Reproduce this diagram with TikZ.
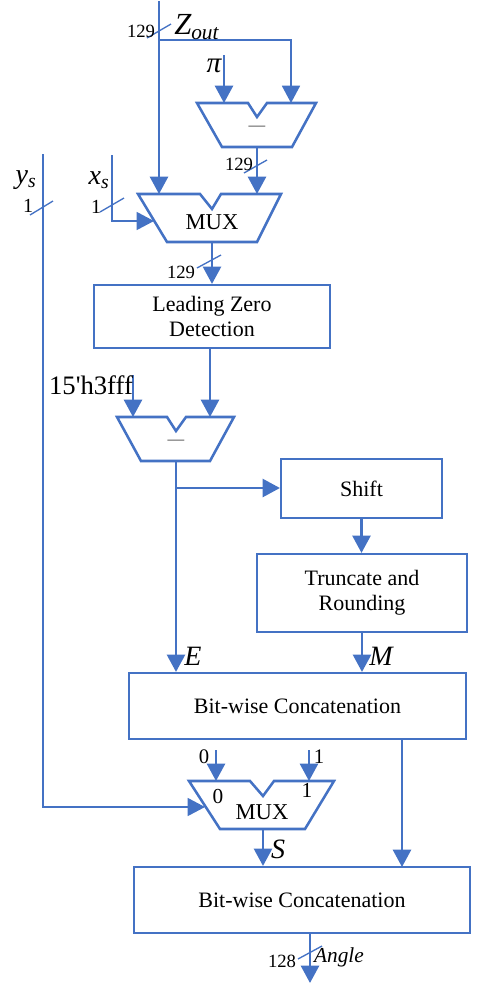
\documentclass[tikz,border=0pt]{standalone}
\usepackage{fontspec}
\setmainfont{Liberation Serif}
\newfontfamily\plainserif{Liberation Serif}
\usetikzlibrary{arrows.meta}
\definecolor{wblue}{HTML}{4472C4}
\begin{document}
\begin{tikzpicture}[x=0.75pt,y=-0.75pt,
 main/.style={draw=wblue,line width=2pt},
 midl/.style={draw=wblue,line width=1.4pt},
 thinl/.style={draw=wblue,line width=1pt},
 arr/.style={-{Triangle[width=13.5pt,length=13pt]}},
 blk/.style={draw=wblue,line width=1.6pt,fill=white,inner sep=0pt,align=center,font=\fontsize{16.5}{19}\selectfont},
 num/.style={inner sep=0pt,font=\fontsize{14}{14}\selectfont},
 ital/.style={inner sep=0pt,font=\fontsize{21}{21}\selectfont\itshape},
 muxshape/.style={draw=wblue,line width=1.9pt,line join=miter},
 minus/.style={inner sep=0pt,text=black!75,font=\fontsize{12.5}{12.5}\selectfont},
 muxtxt/.style={inner sep=0pt,font=\fontsize{17}{17}\selectfont}]
\useasboundingbox (0,0) rectangle (483,983);

% ---- arithmetic / mux shapes ----
\draw[muxshape] (197,103) -- (248,103) -- (257,117) -- (267,103) -- (316,103) -- (292,147) -- (222,147) -- cycle;
\node[minus] (sub1) at (257,128) {—};
\draw[muxshape] (138,194) -- (200,194) -- (212,209) -- (221,194) -- (281,194) -- (257,242) -- (167,242) -- cycle;
\node[muxtxt] (mux1) at (212,222) {MUX};
\draw[muxshape] (117,417) -- (167,417) -- (176,431) -- (186,417) -- (234,417) -- (210,461) -- (141,461) -- cycle;
\node[minus] (sub2) at (176,442) {—};
\draw[muxshape] (189,781) -- (250,781) -- (263,796) -- (274,781) -- (334,781) -- (305,829) -- (220,829) -- cycle;
\node[muxtxt] (mux2) at (262,812) {MUX};
\node[num,font=\fontsize{16}{16}\selectfont] (m2zero) at (218,796) {0};
\node[num,font=\fontsize{16}{16}\selectfont] (m2one) at (307,790) {1};

% ---- boxes ----
\node[blk,minimum width=177pt,minimum height=47.25pt] (lzd) at (212,316.5) {Leading Zero\\Detection};
\node[blk,minimum width=120.75pt,minimum height=44.25pt] (shift) at (361.5,488.5) {Shift};
\node[blk,minimum width=157.5pt,minimum height=58.5pt] (trunc) at (362,593) {Truncate and\\Rounding};
\node[blk,minimum width=252.75pt,minimum height=49.5pt] (c1) at (297.5,706) {Bit-wise Concatenation};
\node[blk,minimum width=252pt,minimum height=49.5pt] (c2) at (302,900) {Bit-wise Concatenation};

% ---- ports ----
\coordinate (ztop) at (159,1);
\coordinate (m1a) at (159,194);
\coordinate (zbr) at (159,40);
\coordinate (s1b) at (291,103);
\coordinate (pitop) at (224,55);
\coordinate (s1a) at (224,103);
\coordinate (s1o) at (257,147);
\coordinate (m1b) at (257,194);
\coordinate (xtop) at (112,155);
\coordinate (m1s) at (154,221);
\coordinate (m1o) at (212,242);
\coordinate (hex) at (133,375);
\coordinate (s2a) at (133,417);
\coordinate (s2b) at (210,417);
\coordinate (s2o) at (176,461);
\coordinate (ebr) at (176,488);
\coordinate (m2a0) at (216,750);
\coordinate (m2a) at (216,781);
\coordinate (m2b0) at (309,750);
\coordinate (m2b) at (309,781);
\coordinate (ytop) at (43,154);
\coordinate (m2s) at (205,807);
\coordinate (m2o) at (263,829);
\coordinate (c2b) at (402,867);
\coordinate (angle) at (310,983);

% ---- connectors ----
\draw[main,arr] (ztop) -- (m1a);
\draw[midl,arr] (zbr) -| (s1b);
\draw[main,arr] (pitop) -- (s1a);
\draw[main,arr] (s1o) -- (m1b);
\draw[thinl,arr] (xtop) |- (m1s);
\draw[main,arr] (m1o) -- (lzd.north);
\draw[main,arr] (lzd.south -| s2b) -- (s2b);
\draw[main,arr] (hex) -- (s2a);
\draw[main,arr] (s2o) -- (s2o |- c1.north);
\draw[main,arr] (ebr) -- (ebr -| shift.west);
\draw[main,arr] (shift.south) -- (shift.south |- trunc.north);
\draw[main,arr] (trunc.south) -- (trunc.south |- c1.north);
\draw[main,arr] (c2b |- c1.south) -- (c2b);
\draw[main,arr] (m2a0) -- (m2a);
\draw[main,arr] (m2b0) -- (m2b);
\draw[thinl,arr] (ytop) |- (m2s);
\draw[main,arr] (m2o) -- (m2o |- c2.north);
\draw[main,arr] (c2.south -| angle) -- (angle);

% ---- bus-width slashes ----
\draw[thinl] (147,38) -- (171,24);
\draw[thinl] (244,173) -- (267,160);
\draw[thinl] (100,212) -- (124,198);
\draw[thinl] (30,215) -- (53,201);
\draw[thinl] (197,268) -- (221,255);
\draw[thinl] (298,959) -- (322,946);

% ---- labels ----
\node[num] (w1) at (141,31) {129};
\node[ital,anchor=west,font=\fontsize{23}{23}\selectfont\itshape] (zout) at (174,27) {Z\raisebox{-0.35ex}{\fontsize{16}{16}\selectfont out}};
\node[ital,font=\fontsize{22}{22}\selectfont\itshape] (pi) at (214,66) {π};
\node[num] (w2) at (239,164) {129};
\node[ital] (xs) at (99,180) {x\textsubscript{s}};
\node[num,font=\fontsize{15}{15}\selectfont] (w3) at (96,207) {1};
\node[ital] (ys) at (26,180) {y\textsubscript{s}};
\node[num,font=\fontsize{15}{15}\selectfont] (w4) at (28,206) {1};
\node[num] (w5) at (181,272) {129};
\node[inner sep=0pt,font=\plainserif\fontsize{20}{20}\selectfont] (hexl) at (91,385) {15'h3fff};
\node[ital] (el) at (193,656) {E};
\node[ital] (ml) at (381,656) {M};
\node[ital] (sl) at (278,849) {S};
\node[num,font=\fontsize{15.5}{15.5}\selectfont] (z0) at (204,757) {0};
\node[num,font=\fontsize{15.5}{15.5}\selectfont] (z1) at (319,757) {1};
\node[num] (w6) at (282,961) {128};
\node[ital,font=\fontsize{16}{16}\selectfont\itshape] (ang) at (339,957) {Angle};
\end{tikzpicture}
\end{document}
